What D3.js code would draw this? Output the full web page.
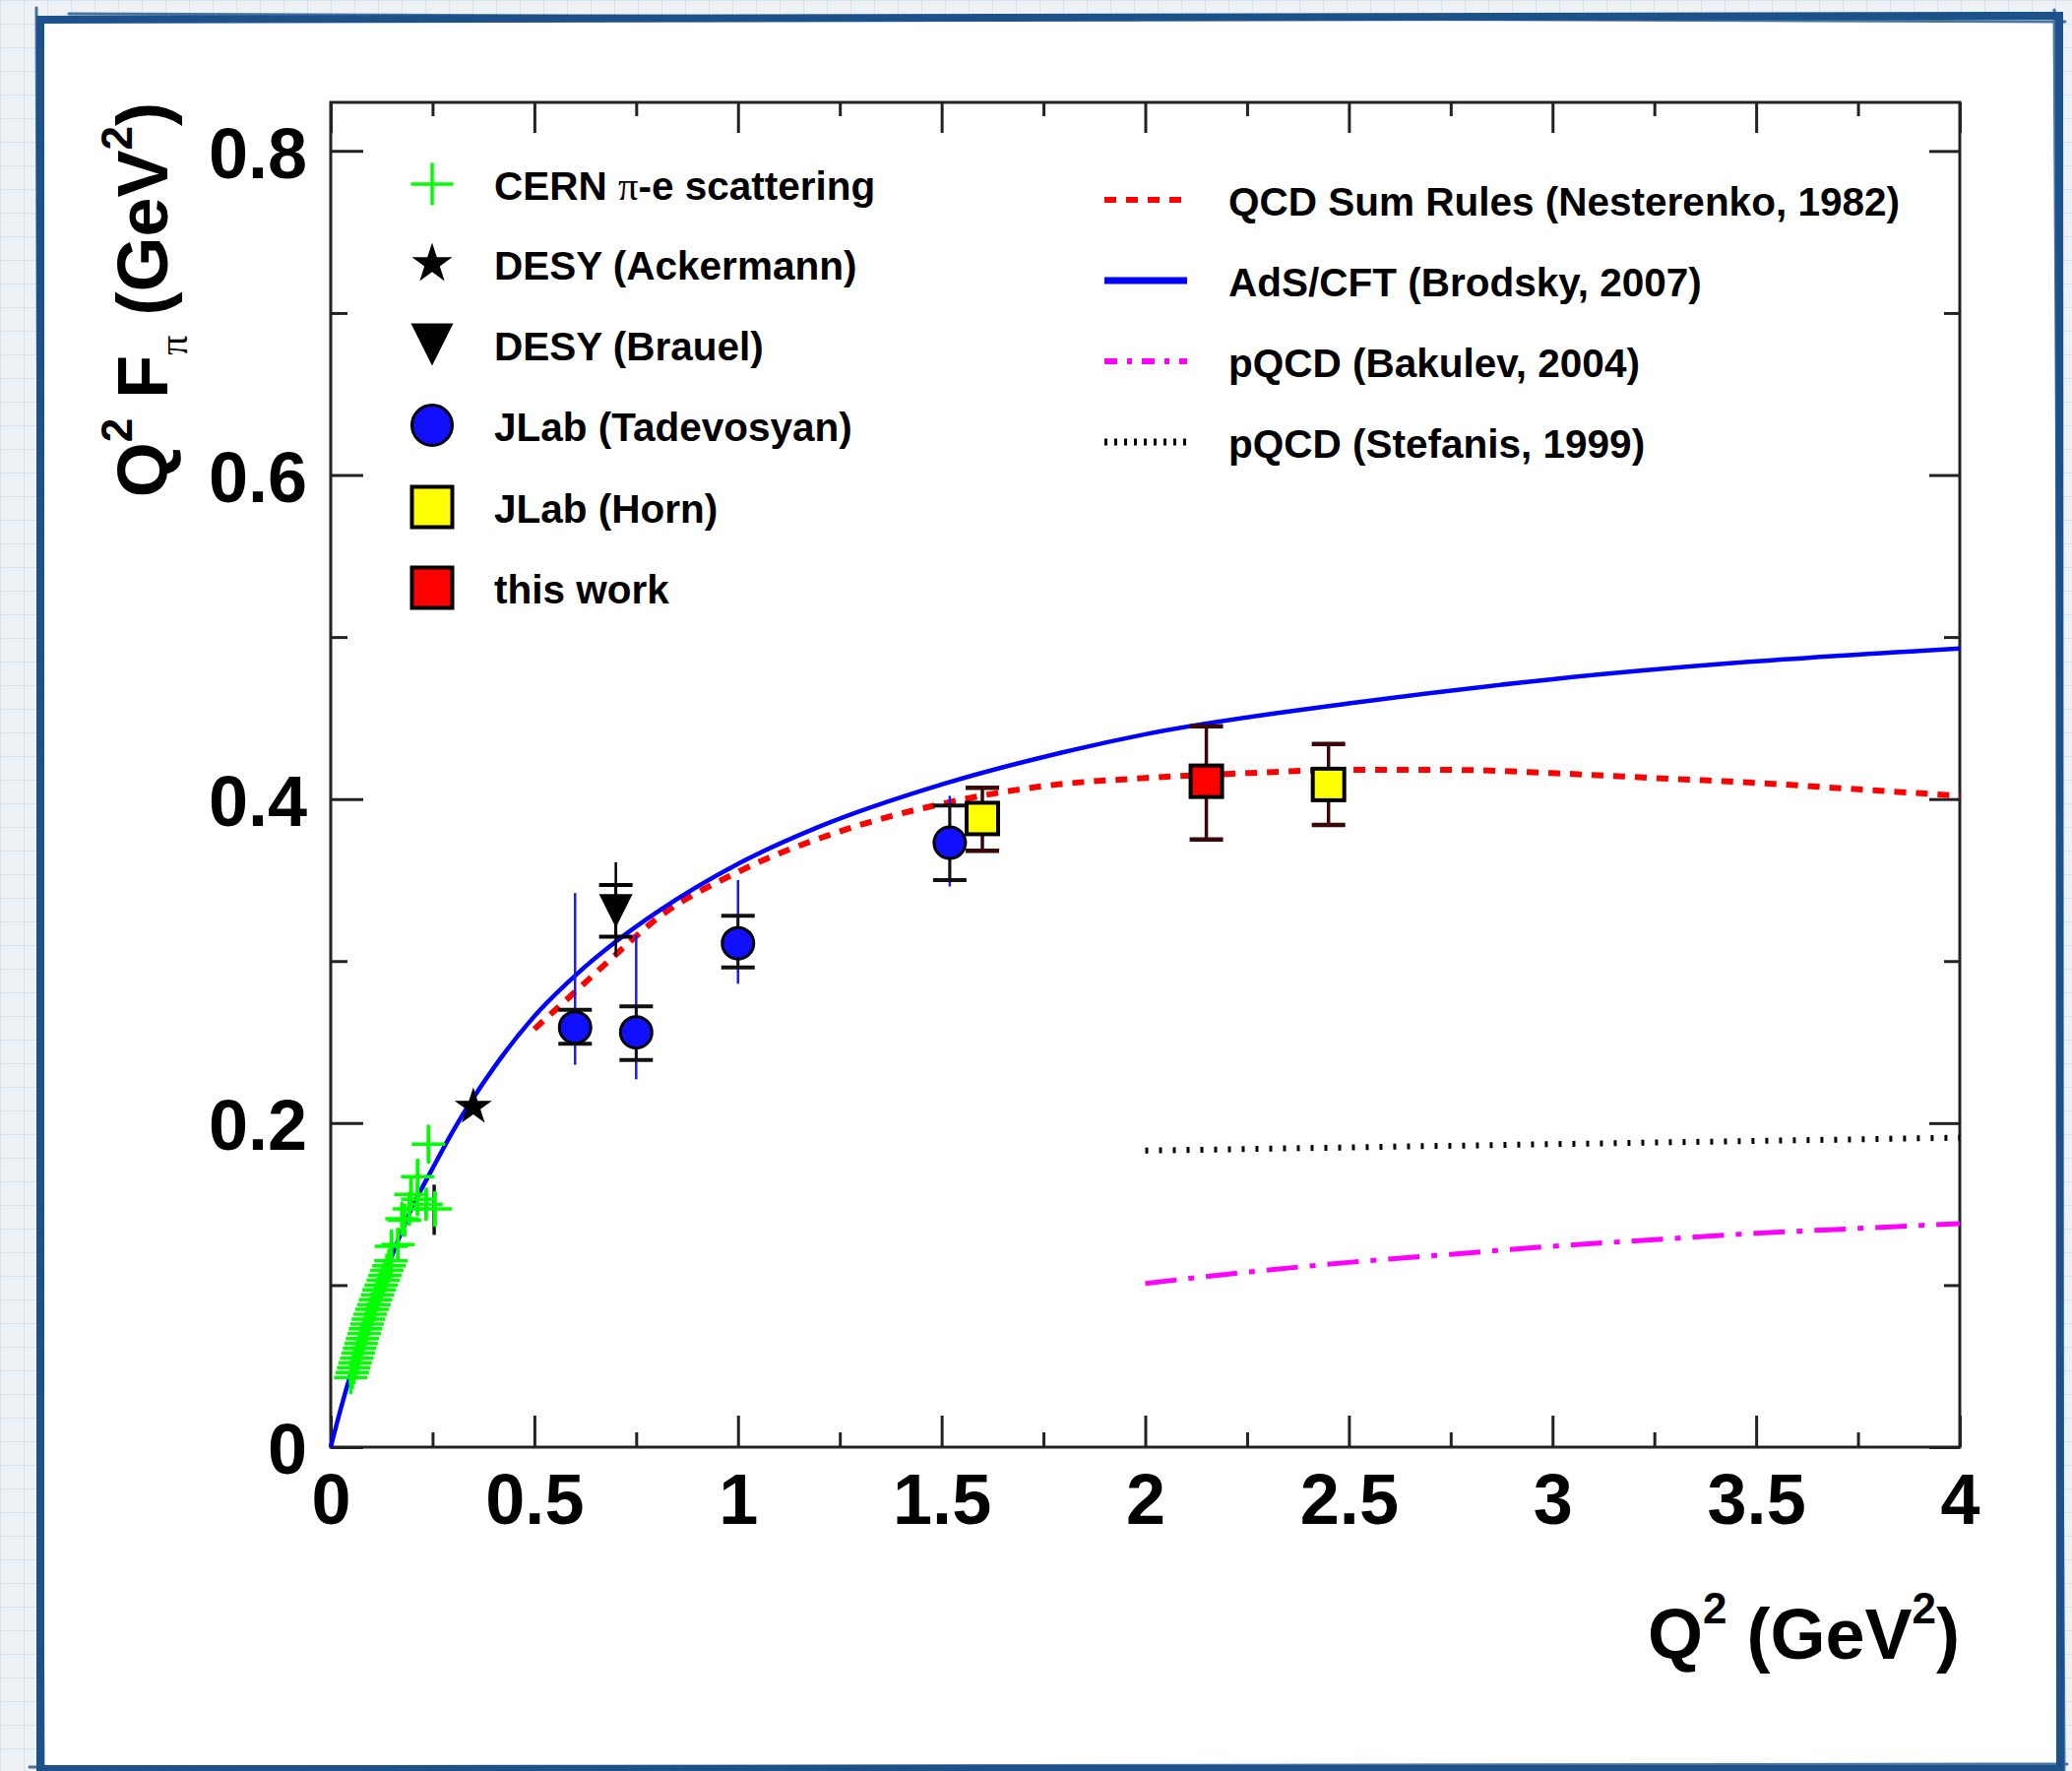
<!DOCTYPE html>
<html>
<head>
<meta charset="utf-8">
<script src="https://cdn.jsdelivr.net/npm/d3@7"></script>
<style>
  body { margin: 0; background: #eef2f5; }
  svg { display: block; }
  text { font-family: "Liberation Sans", Arial, Helvetica, sans-serif; font-weight: bold; fill: #000; }
</style>
</head>
<body>
<script>
const svgW = 2105;
const svgH = 1799;

// ---------- data ----------
const xTicks = [0, 0.5, 1, 1.5, 2, 2.5, 3, 3.5, 4];
const yTicks = [0, 0.2, 0.4, 0.6, 0.8];

// CERN pi-e scattering: [Q2, Q2*F, error]
const cern = [
  [0.049, 0.043, 0.004], [0.053, 0.046, 0.004], [0.0565, 0.049, 0.004], [0.060, 0.052, 0.004],
  [0.064, 0.055, 0.004], [0.0675, 0.058, 0.004], [0.071, 0.061, 0.004], [0.0745, 0.064, 0.004],
  [0.078, 0.067, 0.005], [0.082, 0.070, 0.005], [0.0855, 0.073, 0.005], [0.089, 0.076, 0.005],
  [0.0925, 0.079, 0.005], [0.097, 0.082, 0.005], [0.1015, 0.085, 0.006], [0.106, 0.088, 0.006],
  [0.110, 0.091, 0.006], [0.115, 0.094, 0.006], [0.119, 0.097, 0.006], [0.124, 0.100, 0.007],
  [0.129, 0.103, 0.007], [0.133, 0.106, 0.007], [0.138, 0.109, 0.007], [0.143, 0.112, 0.008],
  [0.148, 0.115, 0.008], [0.149, 0.124, 0.008], [0.165, 0.125, 0.010], [0.175, 0.141, 0.009],
  [0.181, 0.140, 0.010], [0.193, 0.147, 0.009], [0.197, 0.156, 0.010], [0.2135, 0.153, 0.010],
  [0.234, 0.150, 0.009], [0.256, 0.147, 0.011], [0.2135, 0.167, 0.011], [0.240, 0.187, 0.012]
];
// extra black bar on the last CERN point: [Q2, low, high]
const cernSys = [[0.254, 0.131, 0.162]];

// DESY Ackermann: [Q2, Q2*F]
const ackermann = [[0.35, 0.21]];
// DESY Brauel: [Q2, Q2*F, statLo, statHi, totLo, totHi]
const brauel = [[0.70, 0.331, 0.315, 0.347, 0.303, 0.361]];
// JLab Tadevosyan: [Q2, Q2*F, statLo, statHi, totLo, totHi]
const tadevosyan = [
  [0.60, 0.259, 0.249, 0.270, 0.236, 0.342],
  [0.75, 0.256, 0.239, 0.272, 0.227, 0.316],
  [1.00, 0.311, 0.296, 0.328, 0.286, 0.350],
  [1.52, 0.373, 0.350, 0.396, 0.346, 0.402]
];
// JLab Horn: [Q2, Q2*F, lo, hi]
const horn = [
  [1.60, 0.388, 0.368, 0.407],
  [2.45, 0.409, 0.384, 0.434]
];
// this work: [Q2, Q2*F, lo, hi]
const thisWork = [[2.15, 0.411, 0.375, 0.445]];

// theory curves: [Q2, Q2*F]
const sumRules = [
  [0.5, 0.258], [0.6, 0.281], [0.7, 0.304], [0.8, 0.326], [1.0, 0.355], [1.25, 0.380],
  [1.5, 0.397], [1.75, 0.408], [2.0, 0.413], [2.25, 0.416], [2.5, 0.418], [2.75, 0.418],
  [3.0, 0.416], [3.25, 0.413], [3.5, 0.410], [3.75, 0.406], [4.0, 0.402]
];
const adsCft = [
  [0, 0], [0.025, 0.024], [0.05, 0.046], [0.1, 0.085], [0.15, 0.118], [0.2, 0.148],
  [0.25, 0.172], [0.3, 0.195], [0.4, 0.234], [0.5, 0.266], [0.6, 0.291], [0.7, 0.312],
  [0.8, 0.330], [1.0, 0.360], [1.2, 0.383], [1.5, 0.409], [1.8, 0.429], [2.0, 0.440],
  [2.5, 0.459], [3.0, 0.474], [3.5, 0.485], [4.0, 0.493]
];
const bakulev = [
  [2.0, 0.101], [2.25, 0.108], [2.5, 0.114], [2.75, 0.119], [3.0, 0.124],
  [3.25, 0.128], [3.5, 0.132], [3.75, 0.135], [4.0, 0.138]
];
const stefanis = [[2.0, 0.183], [2.5, 0.185], [3.0, 0.187], [3.5, 0.189], [4.0, 0.191]];

const dataLabels = ['CERN π-e scattering', 'DESY (Ackermann)', 'DESY (Brauel)', 'JLab (Tadevosyan)', 'JLab (Horn)', 'this work'];
const curveLabels = ['QCD Sum Rules (Nesterenko, 1982)', 'AdS/CFT (Brodsky, 2007)', 'pQCD (Bakulev, 2004)', 'pQCD (Stefanis, 1999)'];

// ---------- layout ----------
const serif = '"Liberation Serif", "DejaVu Serif", serif';
const fs = 72;       // axis font size
const legFs = 40.5;  // legend font size
const mk = 34;       // marker size in frame
const legMk = 43;    // marker size in legend

const svg = d3.select('body')
              .append('svg')
              .attr('width', svgW)
              .attr('height', svgH);

// grid-paper background
const defs = svg.append('defs');
const pat = defs.append('pattern')
                .attr('id', 'grid')
                .attr('width', 24)
                .attr('height', 24)
                .attr('patternUnits', 'userSpaceOnUse');
pat.append('rect').attr('width', 24).attr('height', 24).attr('fill', '#eef2f5');
pat.append('path').attr('d', 'M24,0H0V24').attr('stroke', '#cde0ee').attr('stroke-width', 1.5).attr('fill', 'none');
svg.append('rect').attr('width', svgW).attr('height', svgH).attr('fill', 'url(#grid)');

// white card with a hand drawn blue border
svg.append('rect').attr('x', 42).attr('y', 18).attr('width', 2050).attr('height', 1778).attr('fill', '#fff');
const border = svg.append('g').attr('fill', 'none').attr('stroke', '#1d5189').attr('stroke-linecap', 'round');
border.append('path').attr('d', 'M41,20 L2092,16 L2093,1797 L41,1797 Z').attr('stroke-width', 8);
border.append('path').attr('d', 'M70,14 L2098,22 M2087,10 L2097,1799 M30,1795 L2100,1792 M37,8 L44,1799').attr('stroke-width', 3).attr('opacity', 0.8);

// scales
const x = d3.scaleLinear().domain([0, 4]).range([336, 1991]);
const y = d3.scaleLinear().domain([0, 0.83]).range([1470, 104]);
const xMinor = d3.range(0.25, 4, 0.5);
const yMinor = d3.range(0.1, 0.83, 0.2);

// axes (ticks drawn inward, ROOT style)
function styleAxis(g) {
  g.select('.domain').remove();
  g.selectAll('.tick line').attr('stroke', '#222').attr('stroke-width', 3);
  g.selectAll('text')
   .attr('font-size', fs)
   .attr('font-family', '"Liberation Sans", Arial, sans-serif')
   .attr('font-weight', 'bold')
   .attr('fill', '#000');
}
const ax = svg.append('g');
ax.append('g').attr('transform', 'translate(0,1470)')
  .call(d3.axisBottom(x).tickValues(xTicks).tickSize(-32).tickSizeOuter(0).tickPadding(27).tickFormat(d => d))
  .call(styleAxis);
ax.append('g').attr('transform', 'translate(0,1470)')
  .call(d3.axisBottom(x).tickValues(xMinor).tickSize(-15).tickSizeOuter(0).tickFormat(''))
  .call(styleAxis);
ax.append('g').attr('transform', 'translate(0,104)')
  .call(d3.axisTop(x).tickValues(xTicks).tickSize(-31).tickSizeOuter(0).tickFormat(''))
  .call(styleAxis);
ax.append('g').attr('transform', 'translate(0,104)')
  .call(d3.axisTop(x).tickValues(xMinor).tickSize(-14).tickSizeOuter(0).tickFormat(''))
  .call(styleAxis);
const yl = ax.append('g').attr('transform', 'translate(336,0)')
  .call(d3.axisLeft(y).tickValues(yTicks).tickSize(-33).tickSizeOuter(0).tickPadding(24).tickFormat(d => d))
  .call(styleAxis);
yl.selectAll('text').attr('dy', '0.37em');
ax.append('g').attr('transform', 'translate(336,0)')
  .call(d3.axisLeft(y).tickValues(yMinor).tickSize(-17).tickSizeOuter(0).tickFormat(''))
  .call(styleAxis);
ax.append('g').attr('transform', 'translate(1991,0)')
  .call(d3.axisRight(y).tickValues(yTicks).tickSize(-31).tickSizeOuter(0).tickFormat(''))
  .call(styleAxis);
ax.append('g').attr('transform', 'translate(1991,0)')
  .call(d3.axisRight(y).tickValues(yMinor).tickSize(-16).tickSizeOuter(0).tickFormat(''))
  .call(styleAxis);
svg.append('rect')
   .attr('x', x(0)).attr('y', y(0.83))
   .attr('width', x(4) - x(0)).attr('height', y(0) - y(0.83))
   .attr('fill', 'none').attr('stroke', '#222').attr('stroke-width', 3);

// axis titles
const xt = svg.append('text')
              .attr('x', 1991).attr('y', 1685)
              .attr('text-anchor', 'end')
              .attr('font-size', fs);
xt.append('tspan').text('Q');
xt.append('tspan').attr('font-size', 44).attr('dy', -36).text('2');
xt.append('tspan').attr('dy', 36).text(' (GeV');
xt.append('tspan').attr('font-size', 44).attr('dy', -36).text('2');
xt.append('tspan').attr('dy', 36).text(')');

const yt = svg.append('text')
              .attr('transform', 'translate(170,104) rotate(-90)')
              .attr('text-anchor', 'end')
              .attr('font-size', fs);
yt.append('tspan').text('Q');
yt.append('tspan').attr('font-size', 44).attr('dy', -36).text('2');
yt.append('tspan').attr('dy', 36).text(' F');
yt.append('tspan').attr('font-family', serif).attr('font-weight', 'normal').attr('font-size', 40).attr('dy', 20).text('π');
yt.append('tspan').attr('dy', -20).text('  (GeV');
yt.append('tspan').attr('font-size', 44).attr('dy', -36).text('2');
yt.append('tspan').attr('dy', 36).text(')');

// ---------- curves ----------
const line = d3.line().x(d => x(d[0])).y(d => y(d[1])).curve(d3.curveMonotoneX);
const curveStyles = [
  { data: sumRules, color: '#ff0000', width: 6, dash: '12 10', legDash: '12 10' },
  { data: adsCft, color: '#0000ff', width: 4.5, dash: null, legDash: null },
  { data: bakulev, color: '#ff00ff', width: 5, dash: '32 12 6 12', legDash: '13 10 5 10' },
  { data: stefanis, color: '#000', width: 6, dash: '3 11', legDash: '3 7' }
];
const cg = svg.append('g').attr('fill', 'none');
cg.selectAll('path')
  .data(curveStyles)
  .enter()
  .append('path')
  .attr('d', d => line(d.data))
  .attr('stroke', d => d.color)
  .attr('stroke-width', d => d.width)
  .attr('stroke-dasharray', d => d.dash);

// ---------- markers ----------
function drawMarker(sel, type, s, fill) {
  const h = s / 2;
  if (type === 'cross') {
    sel.append('path').attr('d', `M${-h},0H${h}M0,${-h}V${h}`)
       .attr('stroke', '#00ff00').attr('stroke-width', 3.5).attr('fill', 'none');
  } else if (type === 'star') {
    sel.append('path').attr('d', d3.symbol(d3.symbolStar, s * s * 0.31)()).attr('fill', '#000');
  } else if (type === 'tri') {
    sel.append('path').attr('d', `M${-h},${-h}L${h},${-h}L0,${h}Z`).attr('fill', '#000');
  } else if (type === 'circle') {
    sel.append('circle').attr('r', h - 1).attr('fill', fill).attr('stroke', '#000').attr('stroke-width', 3);
  } else if (type === 'square') {
    sel.append('rect').attr('x', -h + 1).attr('y', -h + 1).attr('width', s - 2).attr('height', s - 2)
       .attr('fill', fill).attr('stroke', '#000').attr('stroke-width', 4);
  }
}
function errBar(sel, xv, lo, hi, color, w, cap) {
  sel.append('line').attr('x1', x(xv)).attr('x2', x(xv)).attr('y1', y(lo)).attr('y2', y(hi))
     .attr('stroke', color).attr('stroke-width', w);
  if (cap) {
    [lo, hi].forEach(v => {
      sel.append('line').attr('x1', x(xv) - cap / 2).attr('x2', x(xv) + cap / 2)
         .attr('y1', y(v)).attr('y2', y(v)).attr('stroke', color).attr('stroke-width', w + 1);
    });
  }
}

const pg = svg.append('g');
// CERN
cernSys.forEach(d => errBar(pg, d[0], d[1], d[2], '#111', 3.5, 0));
cern.forEach(d => {
  errBar(pg, d[0], d[1] - d[2], d[1] + d[2], '#00ff00', 3.5, 0);
  drawMarker(pg.append('g').attr('transform', `translate(${x(d[0])},${y(d[1])})`), 'cross', mk, null);
});
// DESY Ackermann
ackermann.forEach(d => drawMarker(pg.append('g').attr('transform', `translate(${x(d[0])},${y(d[1])})`), 'star', 38, null));
// DESY Brauel
brauel.forEach(d => {
  errBar(pg, d[0], d[4], d[5], '#000', 2.5, 0);
  errBar(pg, d[0], d[2], d[3], '#000', 3, mk);
  drawMarker(pg.append('g').attr('transform', `translate(${x(d[0])},${y(d[1])})`), 'tri', mk, null);
});
// JLab Tadevosyan
tadevosyan.forEach(d => {
  errBar(pg, d[0], d[4], d[5], '#1a1aff', 2.5, 0);
  errBar(pg, d[0], d[2], d[3], '#111', 3, mk);
  drawMarker(pg.append('g').attr('transform', `translate(${x(d[0])},${y(d[1])})`), 'circle', mk, '#1010ff');
});
// JLab Horn and this work
horn.forEach(d => {
  errBar(pg, d[0], d[2], d[3], '#3a0808', 3.5, mk);
  drawMarker(pg.append('g').attr('transform', `translate(${x(d[0])},${y(d[1])})`), 'square', mk, '#ffff00');
});
thisWork.forEach(d => {
  errBar(pg, d[0], d[2], d[3], '#3a0808', 3.5, mk);
  drawMarker(pg.append('g').attr('transform', `translate(${x(d[0])},${y(d[1])})`), 'square', mk, '#ff0000');
});

// ---------- legends ----------
const legTypes = [['cross', null], ['star', null], ['tri', null], ['circle', '#1010ff'], ['square', '#ffff00'], ['square', '#ff0000']];
const legRowY = [187, 268, 350, 432, 515, 597];
const lg = svg.append('g');
dataLabels.forEach((lab, i) => {
  const [type, fill] = legTypes[i];
  drawMarker(lg.append('g').attr('transform', `translate(439,${legRowY[i]})`), type, type === 'star' ? 41 : legMk, fill);
  const t = lg.append('text').attr('x', 502).attr('y', legRowY[i] + 16).attr('font-size', legFs);
  const parts = lab.split('π');
  parts.forEach((p, j) => {
    if (j > 0) t.append('tspan').attr('font-family', serif).attr('font-weight', 'normal').text('π');
    t.append('tspan').text(p);
  });
});

const curveRowY = [203, 285, 367, 449];
const rg = svg.append('g');
curveLabels.forEach((lab, i) => {
  const c = curveStyles[i];
  rg.append('line')
    .attr('x1', 1122).attr('x2', 1206)
    .attr('y1', curveRowY[i]).attr('y2', curveRowY[i])
    .attr('stroke', c.color)
    .attr('stroke-width', i === 1 ? 7 : (i === 3 ? 7 : 6))
    .attr('stroke-dasharray', c.legDash);
  rg.append('text')
    .attr('x', 1248).attr('y', curveRowY[i] + 16)
    .attr('font-size', legFs)
    .text(lab);
});
</script>
</body>
</html>
